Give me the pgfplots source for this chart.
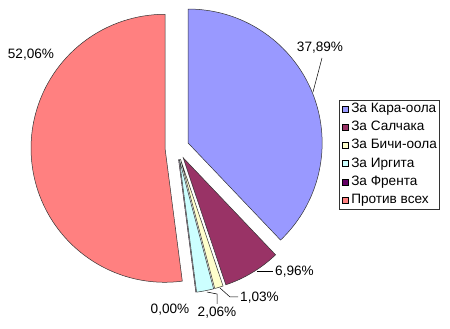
\documentclass[border=0pt]{standalone}
\usepackage{pgfplots}
\pgfplotsset{compat=1.18}
\usepackage{fontspec}
\setmainfont{Liberation Sans}
\definecolor{cKara}{HTML}{9999FF}
\definecolor{cSal}{HTML}{993366}
\definecolor{cBichi}{HTML}{FFFFCC}
\definecolor{cIrg}{HTML}{CCFFFF}
\definecolor{cFr}{HTML}{660066}
\definecolor{cProt}{HTML}{FF8080}
% #1 cumulative start (percent), #2 share (percent), #3 colour
\newcommand\pieslice[3]{%
  \pgfmathsetmacro\sa{90-3.6*#1}%
  \pgfmathsetmacro\ea{90-3.6*(#1+#2)}%
  \pgfmathsetmacro\ma{(\sa+\ea)/2}%
  \pgfmathsetmacro\ox{177+12*cos(\ma)}%
  \pgfmathsetmacro\oy{181.5+12*sin(\ma)}%
  \pgfmathsetmacro\bx{\ox+134*cos(\sa)}%
  \pgfmathsetmacro\by{\oy+134*sin(\sa)}%
  \edef\tmp{\noexpand\filldraw[fill=#3,draw=black!80,line width=0.5pt] (axis cs:\ox,\oy) -- (axis cs:\bx,\by) arc[start angle=\sa,end angle=\ea,radius=134pt] -- cycle;}%
  \tmp}
\pgfplotsset{mysq/.style={legend image code/.code={\draw[##1,line width=0.5pt] (0pt,-3pt) rectangle (6pt,3pt);}}}
\begin{document}
\begin{tikzpicture}
\begin{axis}[
  width=450pt, height=329pt, scale only axis,
  xmin=0, xmax=450, ymin=0, ymax=329,
  hide axis, clip=false,
  legend cell align=left,
  legend style={at={(axis cs:339,229)}, anchor=north west, draw=black!80, fill=white,
    line width=0.5pt, font=\fontsize{13.6}{15}\selectfont,
    inner xsep=2.5pt, inner ysep=2pt, row sep=4.5pt,
    nodes={inner sep=0pt, text height=10.2pt, text depth=3.5pt},
    /tikz/every odd column/.append style={column sep=3pt}},
]
\path (axis cs:0,0) rectangle (axis cs:450,329);
\addlegendimage{mysq, fill=cKara, draw=black}
\addlegendimage{mysq, fill=cSal, draw=black}
\addlegendimage{mysq, fill=cBichi, draw=black}
\addlegendimage{mysq, fill=cIrg, draw=black}
\addlegendimage{mysq, fill=cFr, draw=black}
\addlegendimage{mysq, fill=cProt, draw=black}
\legend{За Кара-оола, За Салчака, За Бичи-оола, За Иргита, За Френта, Против всех}

\pieslice{0}{37.89}{cKara}
\pieslice{37.89}{6.96}{cSal}
\pieslice{44.85}{1.03}{cBichi}
\pieslice{45.88}{2.06}{cIrg}
\pieslice{47.94}{0}{cFr}
\pieslice{47.94}{52.06}{cProt}

% leader lines
\draw[black, line width=0.5pt] (axis cs:322,271) -- (axis cs:313,237);
\draw[black, line width=0.5pt] (axis cs:257,58) -- (axis cs:273,58);
\draw[black, line width=0.5pt] (axis cs:220,41) -- (axis cs:230,32) -- (axis cs:238,32);
\draw[black, line width=0.5pt] (axis cs:207,37) -- (axis cs:217,35) -- (axis cs:217,25);

% labels
\begin{scope}[every node/.style={font=\fontsize{13.6}{15}\selectfont, inner sep=0pt}]
\node at (axis cs:31,274) {52,06\%};
\node at (axis cs:320,281) {37,89\%};
\node[anchor=west] at (axis cs:275,57) {6,96\%};
\node[anchor=west] at (axis cs:240,31) {1,03\%};
\node at (axis cs:217,16) {2,06\%};
\node at (axis cs:170,19) {0,00\%};
\end{scope}
\end{axis}
\end{tikzpicture}
\end{document}
